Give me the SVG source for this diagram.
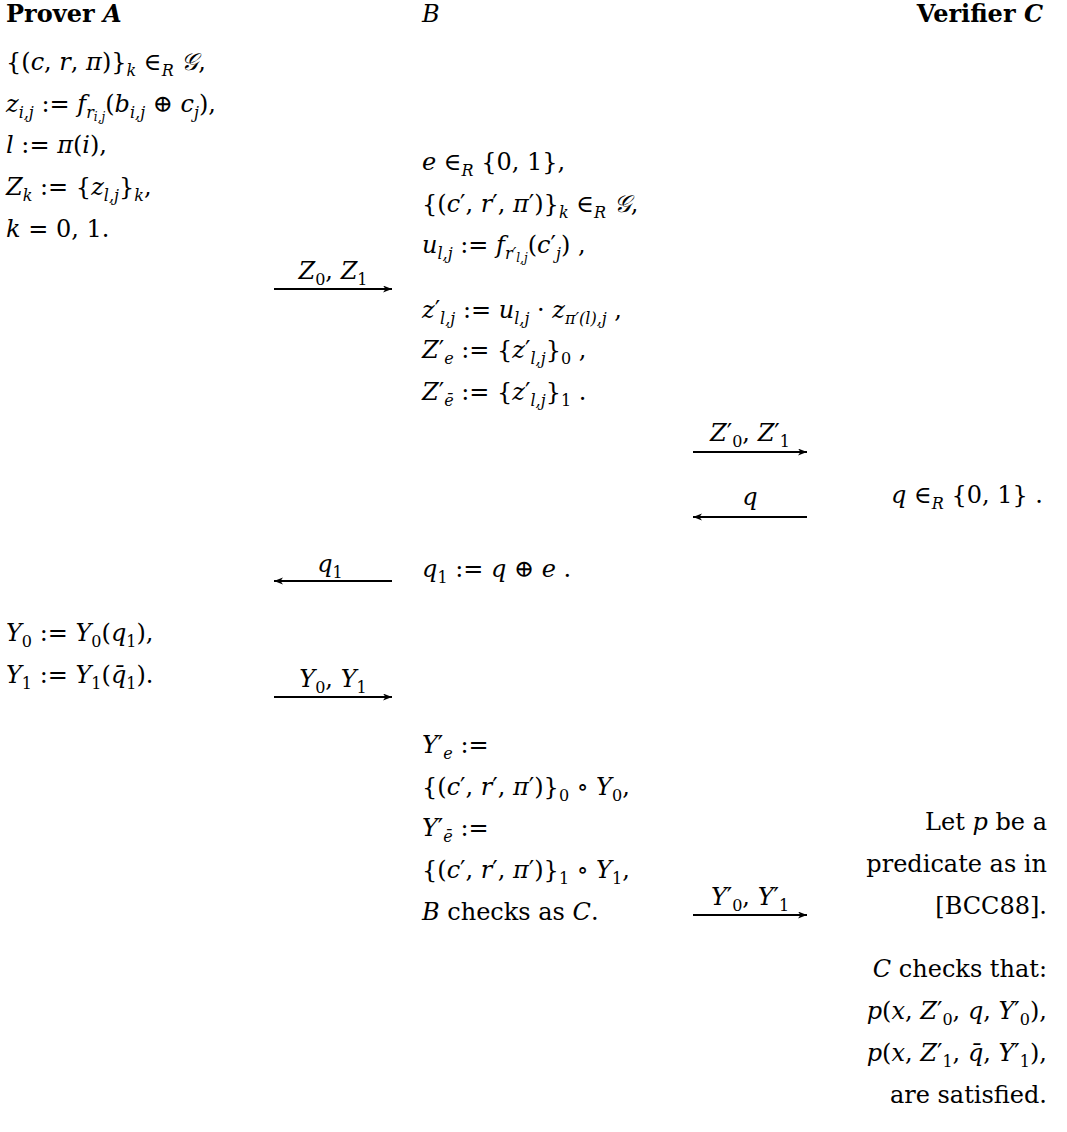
<svg xmlns="http://www.w3.org/2000/svg" width="1067" height="1132" viewBox="0 0 1067 1132">
<style>
text{font-family:"DejaVu Serif","Liberation Serif",serif;font-size:24px;fill:#000}
.b{font-weight:bold}
.i{font-style:italic}
.s{font-size:16px}
.ss{font-size:12px}
.e{text-anchor:end}
.m{text-anchor:middle}
.arr{stroke:#000;stroke-width:1.8;fill:none}
</style>
<defs>
<marker id="ah" markerUnits="userSpaceOnUse" markerWidth="10" markerHeight="8" refX="9" refY="3.5" orient="auto">
<path d="M0,0 L9,3.5 L0,7 L2.5,3.5 z" fill="#000"/>
</marker>
</defs>
<rect width="1067" height="1132" fill="#fff"/>
<g id="headers">
<text class="b" x="6" y="22">Prover <tspan class="i">A</tspan></text>
<text class="i" x="422" y="22">B</text>
<text class="b e" x="1043" y="22">Verifier <tspan class="i">C</tspan></text>
</g>
<g id="prover-step1">
<text x="6" y="70">{(<tspan class="i">c</tspan>, <tspan class="i">r</tspan>, <tspan class="i">π</tspan>)}<tspan class="i s" baseline-shift="-6">k</tspan> ∈<tspan class="i s" baseline-shift="-6">R</tspan> <tspan class="i">𝒢</tspan>,</text>
<text x="6" y="112"><tspan class="i">z</tspan><tspan class="i s" baseline-shift="-6">i,j</tspan> := <tspan class="i">f</tspan><tspan class="i s" baseline-shift="-6">r<tspan class="ss" baseline-shift="-3">i,j</tspan></tspan>(<tspan class="i">b</tspan><tspan class="i s" baseline-shift="-6">i,j</tspan> ⊕ <tspan class="i">c</tspan><tspan class="i s" baseline-shift="-6">j</tspan>),</text>
<text x="6" y="153"><tspan class="i">l</tspan> := <tspan class="i">π</tspan>(<tspan class="i">i</tspan>),</text>
<text x="6" y="195"><tspan class="i">Z</tspan><tspan class="i s" baseline-shift="-6">k</tspan> := {<tspan class="i">z</tspan><tspan class="i s" baseline-shift="-6">l,j</tspan>}<tspan class="i s" baseline-shift="-6">k</tspan>,</text>
<text x="6" y="237"><tspan class="i">k</tspan> = 0, 1.</text>
</g>
<g id="b-step1">
<text x="422" y="170"><tspan class="i">e</tspan> ∈<tspan class="i s" baseline-shift="-6">R</tspan> {0, 1},</text>
<text x="422" y="212">{(<tspan class="i">c</tspan>′, <tspan class="i">r</tspan>′, <tspan class="i">π</tspan>′)}<tspan class="i s" baseline-shift="-6">k</tspan> ∈<tspan class="i s" baseline-shift="-6">R</tspan> <tspan class="i">𝒢</tspan>,</text>
<text x="422" y="253"><tspan class="i">u</tspan><tspan class="i s" baseline-shift="-6">l,j</tspan> := <tspan class="i">f</tspan><tspan class="i s" baseline-shift="-6">r′<tspan class="ss" baseline-shift="-3">l,j</tspan></tspan>(<tspan class="i">c</tspan>′<tspan class="i s" baseline-shift="-6">j</tspan>) ,</text>
<text x="422" y="318"><tspan class="i">z</tspan>′<tspan class="i s" baseline-shift="-6">l,j</tspan> := <tspan class="i">u</tspan><tspan class="i s" baseline-shift="-6">l,j</tspan> · <tspan class="i">z</tspan><tspan class="i s" baseline-shift="-6">π′(l),j</tspan> ,</text>
<text x="422" y="358"><tspan class="i">Z</tspan>′<tspan class="i s" baseline-shift="-6">e</tspan> := {<tspan class="i">z</tspan>′<tspan class="i s" baseline-shift="-6">l,j</tspan>}<tspan class="s" baseline-shift="-6">0</tspan> ,</text>
<text x="422" y="400"><tspan class="i">Z</tspan>′<tspan class="i s" baseline-shift="-6">ē</tspan> := {<tspan class="i">z</tspan>′<tspan class="i s" baseline-shift="-6">l,j</tspan>}<tspan class="s" baseline-shift="-6">1</tspan> .</text>
</g>
<g id="verifier-challenge">
<text class="e" x="1043" y="503"><tspan class="i">q</tspan> ∈<tspan class="i s" baseline-shift="-6">R</tspan> {0, 1} .</text>
</g>
<g id="b-step2">
<text x="422" y="577"><tspan class="i">q</tspan><tspan class="s" baseline-shift="-6">1</tspan> := <tspan class="i">q</tspan> ⊕ <tspan class="i">e</tspan> .</text>
</g>
<g id="prover-step2">
<text x="6" y="641"><tspan class="i">Y</tspan><tspan class="s" baseline-shift="-6">0</tspan> := <tspan class="i">Y</tspan><tspan class="s" baseline-shift="-6">0</tspan>(<tspan class="i">q</tspan><tspan class="s" baseline-shift="-6">1</tspan>),</text>
<text x="6" y="683"><tspan class="i">Y</tspan><tspan class="s" baseline-shift="-6">1</tspan> := <tspan class="i">Y</tspan><tspan class="s" baseline-shift="-6">1</tspan>(<tspan class="i">q̄</tspan><tspan class="s" baseline-shift="-6">1</tspan>).</text>
</g>
<g id="b-step3">
<text x="422" y="753"><tspan class="i">Y</tspan>′<tspan class="i s" baseline-shift="-6">e</tspan> :=</text>
<text x="422" y="795">{(<tspan class="i">c</tspan>′, <tspan class="i">r</tspan>′, <tspan class="i">π</tspan>′)}<tspan class="s" baseline-shift="-6">0</tspan> ∘ <tspan class="i">Y</tspan><tspan class="s" baseline-shift="-6">0</tspan>,</text>
<text x="422" y="836"><tspan class="i">Y</tspan>′<tspan class="i s" baseline-shift="-6">ē</tspan> :=</text>
<text x="422" y="878">{(<tspan class="i">c</tspan>′, <tspan class="i">r</tspan>′, <tspan class="i">π</tspan>′)}<tspan class="s" baseline-shift="-6">1</tspan> ∘ <tspan class="i">Y</tspan><tspan class="s" baseline-shift="-6">1</tspan>,</text>
<text x="422" y="920"><tspan class="i">B</tspan> checks as <tspan class="i">C</tspan>.</text>
</g>
<g id="verifier-check">
<text class="e" x="1047" y="830">Let <tspan class="i">p</tspan> be a</text>
<text class="e" x="1047" y="872">predicate as in</text>
<text class="e" x="1047" y="914">[BCC88].</text>
<text class="e" x="1047" y="977"><tspan class="i">C</tspan> checks that:</text>
<text class="e" x="1047" y="1019"><tspan class="i">p</tspan>(<tspan class="i">x</tspan>, <tspan class="i">Z</tspan>′<tspan class="s" baseline-shift="-6">0</tspan>, <tspan class="i">q</tspan>, <tspan class="i">Y</tspan>′<tspan class="s" baseline-shift="-6">0</tspan>),</text>
<text class="e" x="1047" y="1061"><tspan class="i">p</tspan>(<tspan class="i">x</tspan>, <tspan class="i">Z</tspan>′<tspan class="s" baseline-shift="-6">1</tspan>, <tspan class="i">q̄</tspan>, <tspan class="i">Y</tspan>′<tspan class="s" baseline-shift="-6">1</tspan>),</text>
<text class="e" x="1047" y="1103">are satisfied.</text>
</g>
<g id="connectors">
<line class="arr" x1="274" y1="289" x2="392" y2="289" marker-end="url(#ah)"/>
<text class="m" x="333" y="279"><tspan class="i">Z</tspan><tspan class="s" baseline-shift="-6">0</tspan>, <tspan class="i">Z</tspan><tspan class="s" baseline-shift="-6">1</tspan></text>
<line class="arr" x1="693" y1="452" x2="807" y2="452" marker-end="url(#ah)"/>
<text class="m" x="750" y="441"><tspan class="i">Z</tspan>′<tspan class="s" baseline-shift="-6">0</tspan>, <tspan class="i">Z</tspan>′<tspan class="s" baseline-shift="-6">1</tspan></text>
<line class="arr" x1="807" y1="517" x2="693" y2="517" marker-end="url(#ah)"/>
<text class="m i" x="750" y="505">q</text>
<line class="arr" x1="392" y1="581" x2="274" y2="581" marker-end="url(#ah)"/>
<text class="m" x="330" y="572"><tspan class="i">q</tspan><tspan class="s" baseline-shift="-6">1</tspan></text>
<line class="arr" x1="274" y1="697" x2="392" y2="697" marker-end="url(#ah)"/>
<text class="m" x="333" y="687"><tspan class="i">Y</tspan><tspan class="s" baseline-shift="-6">0</tspan>, <tspan class="i">Y</tspan><tspan class="s" baseline-shift="-6">1</tspan></text>
<line class="arr" x1="693" y1="915" x2="807" y2="915" marker-end="url(#ah)"/>
<text class="m" x="750" y="905"><tspan class="i">Y</tspan>′<tspan class="s" baseline-shift="-6">0</tspan>, <tspan class="i">Y</tspan>′<tspan class="s" baseline-shift="-6">1</tspan></text>
</g>
</svg>
